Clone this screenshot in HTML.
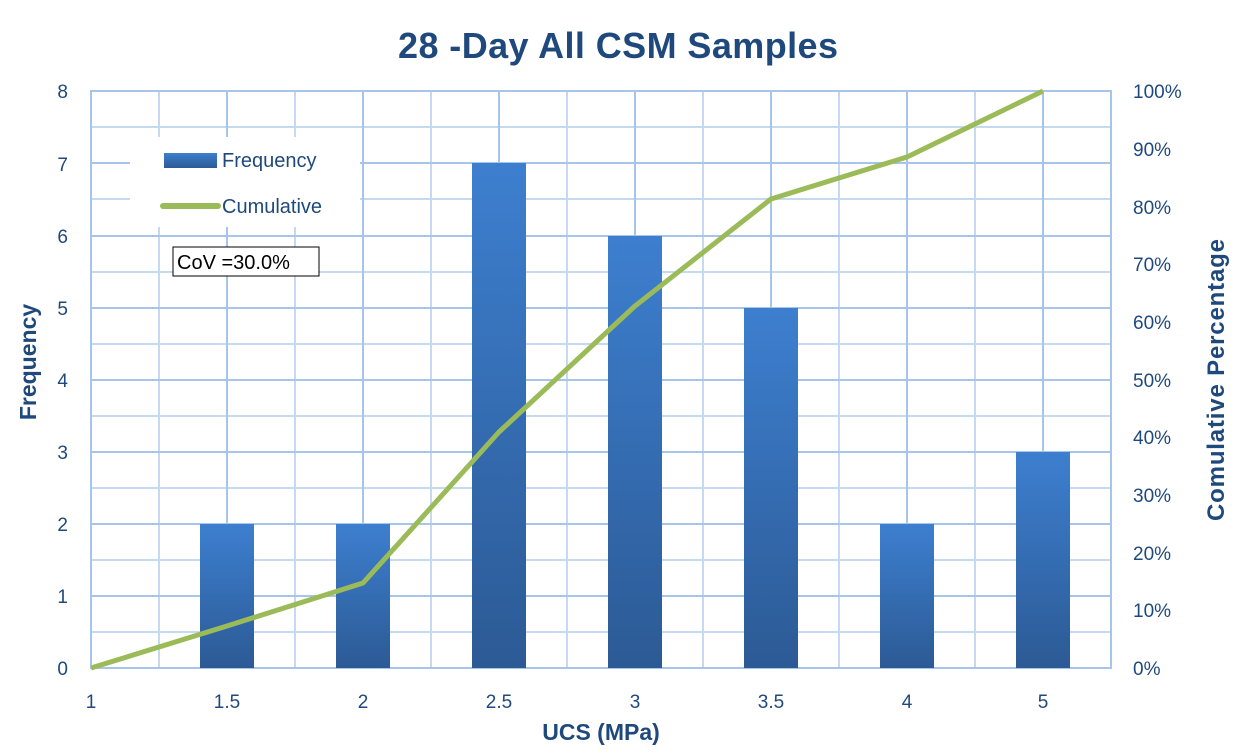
<!DOCTYPE html><html><head><style>body{margin:0;background:#fff}svg text{font-family:"Liberation Sans",sans-serif}</style></head><body>
<svg width="1236" height="748" xmlns="http://www.w3.org/2000/svg">
<defs><linearGradient id="g" x1="0" y1="0" x2="0" y2="1"><stop offset="0" stop-color="#3d7fcf"/><stop offset="1" stop-color="#2c5a95"/></linearGradient></defs>
<g stroke="#c5d9f1" stroke-width="2">
<line x1="159" y1="91" x2="159" y2="668"/><line x1="295" y1="91" x2="295" y2="668"/><line x1="431" y1="91" x2="431" y2="668"/><line x1="567" y1="91" x2="567" y2="668"/><line x1="703" y1="91" x2="703" y2="668"/><line x1="839" y1="91" x2="839" y2="668"/><line x1="975" y1="91" x2="975" y2="668"/>
<line x1="91" y1="127" x2="1111" y2="127"/><line x1="91" y1="199" x2="1111" y2="199"/><line x1="91" y1="272" x2="1111" y2="272"/><line x1="91" y1="344" x2="1111" y2="344"/><line x1="91" y1="416" x2="1111" y2="416"/><line x1="91" y1="488" x2="1111" y2="488"/><line x1="91" y1="560" x2="1111" y2="560"/><line x1="91" y1="632" x2="1111" y2="632"/>
</g>
<g stroke="#a7c5ea" stroke-width="2">
<line x1="227" y1="91" x2="227" y2="668"/><line x1="363" y1="91" x2="363" y2="668"/><line x1="499" y1="91" x2="499" y2="668"/><line x1="635" y1="91" x2="635" y2="668"/><line x1="771" y1="91" x2="771" y2="668"/><line x1="907" y1="91" x2="907" y2="668"/><line x1="1043" y1="91" x2="1043" y2="668"/>
<line x1="91" y1="163" x2="1111" y2="163"/><line x1="91" y1="236" x2="1111" y2="236"/><line x1="91" y1="308" x2="1111" y2="308"/><line x1="91" y1="380" x2="1111" y2="380"/><line x1="91" y1="452" x2="1111" y2="452"/><line x1="91" y1="524" x2="1111" y2="524"/><line x1="91" y1="596" x2="1111" y2="596"/>
<rect x="91" y="91" width="1020" height="577" fill="none"/>
</g>
<rect x="130" y="137" width="230" height="90" fill="#fff"/>
<g fill="url(#g)">
<rect x="200" y="524" width="54" height="144"/><rect x="336" y="524" width="54" height="144"/><rect x="472" y="163" width="54" height="505"/><rect x="608" y="236" width="54" height="432"/><rect x="744" y="308" width="54" height="360"/><rect x="880" y="524" width="54" height="144"/><rect x="1016" y="452" width="54" height="216"/>
</g>
<polyline points="91,668 227,626 363,583 499,432 635,306 771,199 907,157 1043,91" fill="none" stroke="#9bbb59" stroke-width="5" stroke-linejoin="round"/>
<rect x="164" y="153" width="53" height="15" fill="url(#g)"/>
<line x1="163" y1="206" x2="218" y2="206" stroke="#9bbb59" stroke-width="6" stroke-linecap="round"/>
<g fill="#1f497d" font-size="20"><text x="222" y="167">Frequency</text><text x="222" y="213">Cumulative</text></g>
<rect x="173" y="247" width="146" height="29" fill="#fff" stroke="#000"/>
<text x="177" y="269" font-size="20" fill="#000">CoV =30.0%</text>
<text x="618" y="58" font-size="36" font-weight="bold" fill="#1f497d" text-anchor="middle" textLength="440">28 -Day All CSM Samples</text>
<g fill="#1f497d" font-size="19" text-anchor="end">
<text x="68" y="98">8</text><text x="68" y="171">7</text><text x="68" y="243">6</text><text x="68" y="315">5</text><text x="68" y="387">4</text><text x="68" y="459">3</text><text x="68" y="531">2</text><text x="68" y="603">1</text><text x="68" y="675">0</text>
</g>
<g fill="#1f497d" font-size="19">
<text x="1133" y="98">100%</text><text x="1133" y="156">90%</text><text x="1133" y="214">80%</text><text x="1133" y="271">70%</text><text x="1133" y="329">60%</text><text x="1133" y="387">50%</text><text x="1133" y="444">40%</text><text x="1133" y="502">30%</text><text x="1133" y="560">20%</text><text x="1133" y="617">10%</text><text x="1133" y="675">0%</text>
</g>
<g fill="#1f497d" font-size="19" text-anchor="middle">
<text x="91" y="708">1</text><text x="227" y="708">1.5</text><text x="363" y="708">2</text><text x="499" y="708">2.5</text><text x="635" y="708">3</text><text x="771" y="708">3.5</text><text x="907" y="708">4</text><text x="1043" y="708">5</text>
</g>
<text x="601" y="740" font-size="23" font-weight="bold" fill="#1f497d" text-anchor="middle">UCS (MPa)</text>
<text transform="translate(36,362) rotate(-90)" font-size="23" font-weight="bold" fill="#1f497d" text-anchor="middle">Frequency</text>
<text transform="translate(1224,380) rotate(-90)" font-size="24" font-weight="bold" fill="#1f497d" text-anchor="middle" textLength="282">Comulative Percentage</text>
</svg></body></html>
